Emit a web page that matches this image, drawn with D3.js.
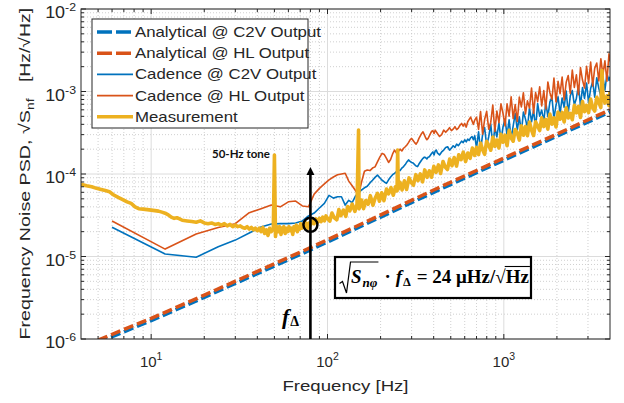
<!DOCTYPE html>
<html>
<head>
<meta charset="utf-8">
<script src="https://cdn.jsdelivr.net/npm/d3@7"></script>
<style>
  html, body { margin: 0; padding: 0; background: #fff; }
  svg { display: block; font-family: "Liberation Sans", Arial, sans-serif; }
  text { white-space: pre; }
</style>
</head>
<body>
<div id="chart"></div>
<script>
/* Frequency noise PSD — analytical vs. Cadence vs. measurement (log-log) */

const X_DOMAIN = [4, 4000];
const Y_DOMAIN = [1e-6, 1e-2];
const X_TICK_EXP = [1, 2, 3];
const Y_TICK_EXP = [-6, -5, -4, -3, -2];

const SERIES_NAMES = [
  'Analytical @ C2V Output',
  'Analytical @ HL Output',
  'Cadence @ C2V Output',
  'Cadence @ HL Output',
  'Measurement'
];

// [frequency Hz, sqrt(S_nf) Hz/sqrt(Hz)]
const analyticalC2V = [
  [5, 0.91e-6], [10, 1.67e-6], [20, 3.2e-6], [40, 6.2e-6], [80, 1.2e-5],
  [160, 2.4e-5], [400, 6.0e-5], [1000, 1.47e-4], [2000, 2.87e-4], [4000, 5.65e-4]
];
const analyticalHL = [
  [5, 0.97e-6], [10, 1.78e-6], [20, 3.4e-6], [40, 6.6e-6], [80, 1.28e-5],
  [160, 2.55e-5], [400, 6.4e-5], [1000, 1.56e-4], [2000, 3.05e-4], [4000, 6.0e-4]
];

const cadenceC2V = [
  [6, 2.26e-5], [12, 1.07e-5], [18, 0.98e-5], [24, 1.31e-5], [30, 1.58e-5], [36, 1.93e-5],
  [42, 2.28e-5], [48, 2.48e-5], [54, 2.5e-5], [60, 2.5e-5], [66, 2.55e-5], [72, 2.7e-5],
  [78, 3.1e-5], [84, 3.36e-5], [90, 3.87e-5], [96, 4.4e-5], [102, 5.5e-5], [108, 5.1e-5],
  [114, 5.3e-5], [120, 5.3e-5], [126, 4.2e-5], [132, 4.8e-5], [138, 4.5e-5], [144, 5.4e-5],
  [150, 5.9e-5], [156, 6.4e-5], [162, 6.8e-5], [168, 7.1e-5], [174, 7.8e-5], [180, 8.4e-5],
  [186, 9.1e-5], [192, 9.7e-5], [198, 9.0e-5], [204, 8.4e-5], [210, 8.0e-5], [216, 7.7e-5],
  [222, 8.5e-5], [228, 9.2e-5], [234, 9.8e-5], [240, 1.02e-4], [246, 1.07e-4], [252, 1.12e-4],
  [258, 1.1e-4], [264, 1.18e-4], [270, 1.23e-4], [276, 1.3e-4], [282, 1.4e-4], [288, 1.48e-4],
  [294, 1.42e-4], [300, 1.38e-4], [306, 1.36e-4], [312, 1.3e-4], [318, 1.25e-4], [324, 1.23e-4],
  [330, 1.32e-4], [336, 1.4e-4], [342, 1.48e-4], [348, 1.55e-4], [354, 1.6e-4], [360, 1.58e-4],
  [366, 1.52e-4], [372, 1.6e-4], [378, 1.62e-4], [384, 1.7e-4], [390, 1.78e-4], [396, 1.85e-4],
  [402, 1.7e-4], [408, 1.9e-4], [414, 1.95e-4], [420, 1.8e-4], [432, 1.7e-4], [444, 1.85e-4],
  [456, 1.95e-4], [468, 2.1e-4], [480, 2.14e-4], [492, 1.95e-4], [504, 2.05e-4], [516, 2.2e-4],
  [528, 2.1e-4], [540, 2.3e-4], [552, 2.2e-4], [564, 2.35e-4], [576, 2.5e-4], [588, 2.4e-4],
  [600, 2.6e-4], [612, 2.45e-4], [624, 2.65e-4], [636, 2.55e-4], [648, 2.75e-4], [660, 2.84e-4],
  [672, 2.6e-4], [684, 2.9e-4],
  [700, 2.07e-4], [719, 3.25e-4], [738, 1.93e-4], [758, 3.02e-4], [778, 3.65e-4], [799, 2.21e-4],
  [821, 2.83e-4], [843, 4.02e-4], [866, 2.15e-4], [889, 3.67e-4], [913, 2.82e-4], [938, 4.17e-4],
  [963, 2.57e-4], [989, 3.71e-4], [1016, 4.67e-4], [1043, 2.91e-4], [1071, 4.54e-4], [1100, 2.69e-4],
  [1130, 3.82e-4], [1160, 5.41e-4], [1192, 3.42e-4], [1224, 4.94e-4], [1257, 3.17e-4], [1291, 5.63e-4],
  [1326, 4.66e-4], [1361, 3.64e-4], [1398, 6.3e-4], [1436, 4.3e-4], [1475, 5.89e-4], [1514, 3.62e-4],
  [1555, 7.12e-4], [1597, 5.03e-4], [1640, 5.96e-4], [1685, 4.34e-4], [1730, 7.41e-4], [1777, 4.96e-4],
  [1825, 7.49e-4], [1874, 8.47e-4], [1924, 4.73e-4], [1976, 6.78e-4], [2030, 8.61e-4], [2084, 5.43e-4],
  [2141, 8.35e-4], [2198, 6.43e-4], [2258, 1.01e-3], [2318, 5.41e-4], [2381, 8.86e-4], [2445, 1.026e-3],
  [2511, 6.88e-4], [2579, 8.29e-4], [2648, 1.174e-3], [2720, 6.8e-4], [2793, 1.118e-3], [2868, 8.25e-4],
  [2946, 1.269e-3], [3025, 7.23e-4], [3107, 1.087e-3], [3190, 1.317e-3], [3277, 8.52e-4], [3365, 1.47e-3],
  [3456, 1.092e-3], [3549, 8.74e-4], [3645, 1.492e-3], [3743, 1.036e-3], [3844, 1.629e-3], [3948, 1.362e-3],
  [4000, 1.506e-3]
];

const cadenceHL = [
  [6, 2.69e-5], [12, 1.23e-5], [18, 1.87e-5], [24, 2.25e-5], [30, 2.5e-5], [36, 3.4e-5],
  [42, 3.8e-5], [48, 4.2e-5], [54, 4.0e-5], [60, 4.6e-5], [66, 4.7e-5], [72, 4.1e-5],
  [78, 4.0e-5], [84, 5.7e-5], [90, 6.7e-5], [96, 7.6e-5], [102, 8.5e-5], [108, 9.2e-5],
  [114, 9.8e-5], [120, 1.0e-4], [126, 1.02e-4], [132, 8.2e-5], [138, 7.2e-5], [144, 6.3e-5],
  [150, 5.5e-5], [156, 8.0e-5], [162, 1.08e-4], [168, 1.12e-4], [174, 1.1e-4], [180, 1.18e-4],
  [186, 1.22e-4], [192, 1.4e-4], [198, 1.6e-4], [204, 1.78e-4], [210, 1.72e-4], [216, 1.55e-4],
  [222, 1.38e-4], [228, 1.5e-4], [234, 1.75e-4], [240, 1.95e-4], [246, 1.8e-4], [252, 1.88e-4],
  [258, 2.0e-4], [264, 1.9e-4], [270, 2.05e-4], [276, 2.14e-4], [282, 2.25e-4], [288, 2.4e-4],
  [294, 2.6e-4], [300, 2.7e-4], [306, 2.55e-4], [312, 2.4e-4], [318, 2.3e-4], [324, 2.45e-4],
  [330, 2.7e-4], [336, 2.9e-4], [342, 3.1e-4], [348, 3.25e-4], [354, 3.0e-4], [360, 2.75e-4],
  [366, 2.6e-4], [372, 2.7e-4], [378, 2.9e-4], [384, 3.1e-4], [390, 3.3e-4], [396, 3.35e-4],
  [402, 3.1e-4], [408, 3.4e-4], [420, 3.1e-4], [432, 2.85e-4], [444, 3.0e-4], [456, 3.4e-4],
  [468, 3.2e-4], [480, 3.4e-4], [492, 3.65e-4], [504, 3.35e-4], [516, 3.5e-4], [528, 3.75e-4],
  [540, 3.45e-4], [552, 3.6e-4], [564, 3.9e-4], [576, 4.1e-4], [588, 3.8e-4], [600, 4.1e-4],
  [612, 3.7e-4], [624, 4.3e-4], [636, 4.6e-4], [648, 4.9e-4], [660, 4.4e-4], [672, 4.0e-4],
  [684, 4.5e-4],
  [700, 4.88e-4], [719, 3.47e-4], [738, 5.73e-4], [758, 3.04e-4], [778, 4.57e-4], [799, 5.74e-4],
  [821, 3.49e-4], [843, 4.25e-4], [866, 6.87e-4], [889, 3.29e-4], [913, 5.78e-4], [938, 4.2e-4],
  [963, 7.08e-4], [989, 5.45e-4], [1016, 3.83e-4], [1043, 7.1e-4], [1071, 5.03e-4], [1100, 8.61e-4],
  [1130, 4.7e-4], [1160, 6.93e-4], [1192, 4.33e-4], [1224, 8.56e-4], [1257, 6.5e-4], [1291, 9.66e-4],
  [1326, 5.33e-4], [1361, 7.7e-4], [1398, 6.32e-4], [1436, 1.104e-3], [1475, 5.44e-4], [1514, 9.68e-4],
  [1555, 7.54e-4], [1597, 1.14e-3], [1640, 6.67e-4], [1685, 1.026e-3], [1730, 6.14e-4], [1777, 1.304e-3],
  [1825, 9.68e-4], [1874, 8.03e-4], [1924, 1.454e-3], [1976, 7.46e-4], [2030, 1.325e-3], [2084, 9.41e-4],
  [2141, 1.499e-3], [2198, 7.91e-4], [2258, 1.295e-3], [2318, 1.559e-3], [2381, 9.47e-4], [2445, 1.821e-3],
  [2511, 1.121e-3], [2579, 1.595e-3], [2648, 9.16e-4], [2720, 1.946e-3], [2793, 1.376e-3], [2868, 1.101e-3],
  [2946, 2.024e-3], [3025, 1.261e-3], [3107, 2.28e-3], [3190, 1.169e-3], [3277, 1.918e-3], [3365, 2.213e-3],
  [3456, 1.344e-3], [3549, 2.498e-3], [3645, 1.589e-3], [3743, 2.354e-3], [3844, 1.337e-3], [3948, 2.856e-3],
  [4000, 2.316e-3]
];

const measurement = [
  [4.0, 7.5e-5], [4.3, 7.2e-5], [4.6, 7.0e-5], [4.9, 6.7e-5], [5.2, 6.5e-5], [5.5, 6.3e-5],
  [5.8, 6.1e-5], [6.1, 5.6e-5], [6.5, 5.2e-5], [6.9, 4.9e-5], [7.3, 4.6e-5], [7.7, 4.4e-5],
  [8.1, 4.0e-5], [8.5, 3.8e-5], [9.0, 3.75e-5], [9.5, 3.7e-5], [10, 3.65e-5], [10.5, 3.6e-5],
  [11, 3.55e-5], [11.5, 3.45e-5], [12, 3.35e-5], [12.5, 3.2e-5], [13, 3.0e-5], [13.5, 2.9e-5],
  [14, 2.95e-5], [14.5, 2.85e-5], [15, 2.75e-5], [16, 2.7e-5], [17, 2.65e-5], [18, 2.6e-5],
  [19, 2.7e-5], [20, 2.55e-5], [21, 2.5e-5], [22, 2.55e-5], [23, 2.45e-5], [24, 2.5e-5],
  [25, 2.4e-5], [26, 2.5e-5], [27, 2.35e-5], [28, 2.45e-5], [29, 2.3e-5], [30, 2.4e-5],
  [31, 2.3e-5], [32, 2.35e-5], [33, 2.25e-5], [34, 2.2e-5], [35, 2.3e-5], [36, 2.15e-5],
  [37, 2.25e-5], [38, 2.1e-5], [39, 2.2e-5], [40, 2.05e-5], [41, 2.2e-5], [42, 2.0e-5],
  [43, 2.25e-5], [44, 1.9e-5], [45, 2.1e-5], [46, 1.8e-5], [47, 2.2e-5], [48, 2.0e-5],
  [49.3, 2.2e-5], [50, 1.7e-4], [50.7, 1.75e-5], [51.5, 2.3e-5], [52.5, 2.0e-5], [53.5, 2.3e-5],
  [54.5, 1.85e-5], [55.5, 2.2e-5], [56.5, 2.3e-5], [57.5, 1.9e-5], [58.5, 2.2e-5], [59.5, 2.0e-5],
  [60.5, 2.3e-5], [61.5, 2.05e-5], [62.5, 2.2e-5], [63.5, 1.85e-5], [64.5, 2.3e-5], [65.5, 2.1e-5],
  [66.5, 2.4e-5], [67.5, 2.0e-5], [68.5, 2.3e-5], [69.5, 2.15e-5], [70.5, 2.5e-5], [71.5, 2.2e-5],
  [72.5, 2.4e-5], [73.5, 2.3e-5], [74.5, 2.6e-5], [75.5, 2.3e-5], [76.5, 2.5e-5], [77.5, 2.2e-5],
  [78.5, 2.55e-5], [80, 2.4e-5], [82, 2.7e-5], [84, 2.5e-5], [86, 2.85e-5], [88, 2.6e-5],
  [90, 2.9e-5], [92, 2.65e-5], [94, 3.0e-5], [96, 2.7e-5], [98, 3.1e-5],
  [100, 2.9e-5], [103, 2.68e-5], [106, 3.37e-5], [109, 2.97e-5], [113, 2.79e-5], [116, 3.71e-5],
  [119, 3.12e-5], [123, 3.66e-5], [127, 3.06e-5], [130, 4.04e-5], [134, 3.58e-5], [138, 4.33e-5],
  [143, 3.52e-5], [147, 4.31e-5], [150, 3.4e-4], [151, 3.78e-5], [156, 4.84e-5], [160, 3.8e-5],
  [165, 4.77e-5], [170, 4.3e-5], [175, 5.46e-5], [181, 4.19e-5], [186, 5.05e-5], [192, 5.82e-5],
  [197, 4.68e-5], [203, 5.93e-5], [209, 4.75e-5], [216, 6.56e-5], [222, 5.73e-5], [229, 6.85e-5],
  [236, 5.54e-5], [243, 6.97e-5], [248, 6.24e-5], [250, 1.95e-4], [252, 6.56e-5], [258, 7.92e-5],
  [265, 6.41e-5], [273, 8.26e-5], [281, 6.5e-5], [290, 8.96e-5], [299, 7.86e-5], [307, 7.3e-5],
  [317, 9.82e-5], [326, 8.29e-5], [336, 1.003e-4], [346, 8.03e-5], [356, 1.121e-4], [367, 9.12e-5],
  [378, 1.095e-4], [389, 9.13e-5], [401, 1.239e-4], [413, 1.048e-4], [426, 1.291e-4], [438, 1.014e-4],
  [452, 1.419e-4], [465, 1.217e-4], [479, 1.134e-4], [493, 1.52e-4], [508, 1.261e-4], [523, 1.585e-4],
  [539, 1.246e-4], [555, 1.708e-4], [572, 1.492e-4], [589, 1.841e-4], [607, 1.414e-4], [625, 1.796e-4],
  [644, 1.549e-4], [663, 2.063e-4], [683, 1.676e-4],
  [700, 2.1e-4], [719, 1.72e-4], [738, 2.37e-4], [758, 1.96e-4], [778, 1.73e-4], [799, 2.49e-4],
  [821, 2.22e-4], [843, 1.94e-4], [866, 2.81e-4], [889, 2.16e-4], [913, 2.58e-4], [938, 2.07e-4],
  [963, 3.04e-4], [989, 2.43e-4], [1016, 2.96e-4], [1043, 2.2e-4], [1071, 3.38e-4], [1100, 2.73e-4],
  [1130, 2.5e-4], [1160, 3.46e-4], [1192, 3.13e-4], [1224, 2.58e-4], [1257, 3.85e-4], [1291, 2.95e-4],
  [1326, 3.76e-4], [1361, 2.91e-4], [1398, 4.27e-4], [1436, 3.4e-4], [1475, 2.93e-4], [1514, 4.3e-4],
  [1555, 3.82e-4], [1597, 3.36e-4], [1640, 4.79e-4], [1685, 3.76e-4], [1730, 4.59e-4], [1777, 3.5e-4],
  [1825, 5.32e-4], [1874, 4.01e-4], [1924, 4.78e-4], [1976, 3.72e-4], [2030, 5.62e-4], [2084, 4.62e-4],
  [2141, 5.57e-4], [2198, 4.27e-4], [2258, 6.34e-4], [2318, 4.78e-4], [2381, 5.43e-4], [2445, 4.55e-4],
  [2511, 6.8e-4], [2579, 5.51e-4], [2648, 6.63e-4], [2720, 4.84e-4], [2793, 7.55e-4], [2868, 5.69e-4],
  [2946, 6.79e-4], [3025, 5.55e-4], [3107, 8.1e-4], [3190, 6.35e-4], [3277, 5.79e-4], [3365, 8.51e-4],
  [3456, 7.37e-4], [3549, 6.4e-4], [3600, 1.8e-3], [3645, 9.39e-4], [3743, 7.24e-4], [3844, 8.85e-4],
  [3948, 6.74e-4], [4000, 9.96e-4]
];

// annotation values
const F_DELTA = 80;
const ARROW_TOP = 1.22e-4;
const OPERATING_POINT = [80, 2.42e-5];
const TONE_LABEL = '50-Hz tone';

(function () {
  const W = 624, H = 403;
  const plot = { left: 81, right: 610, top: 9, bottom: 339 };
  const AXIS_COLOR = '#262626';
  const BLUE = '#0072BD', ORANGE = '#D95319', YELLOW = '#EDB120';

  const x = d3.scaleLog().domain(X_DOMAIN).range([plot.left, plot.right]);
  const y = d3.scaleLog().domain(Y_DOMAIN).range([plot.bottom, plot.top]);

  const svg = d3.select('#chart').append('svg')
    .attr('width', W).attr('height', H)
    .attr('viewBox', `0 0 ${W} ${H}`);

  svg.append('defs').append('clipPath').attr('id', 'plot-clip')
    .append('rect')
    .attr('x', plot.left).attr('y', plot.top)
    .attr('width', plot.right - plot.left).attr('height', plot.bottom - plot.top);

  // tick values
  const xMajor = X_TICK_EXP.map(e => Math.pow(10, e));
  const yMajor = Y_TICK_EXP.map(e => Math.pow(10, e));
  const xMinor = [];
  [1, 10, 100, 1000].forEach(d => {
    for (let m = 2; m <= 9; m++) {
      const v = d * m;
      if (v > X_DOMAIN[0] && v < X_DOMAIN[1]) xMinor.push(v);
    }
  });
  const yMinor = [];
  [1e-6, 1e-5, 1e-4, 1e-3].forEach(d => {
    for (let m = 2; m <= 9; m++) yMinor.push(d * m);
  });

  // grid
  const grid = svg.append('g').attr('class', 'grid');
  grid.selectAll('.gx-minor').data(xMinor).enter().append('line')
    .attr('x1', d => x(d)).attr('x2', d => x(d))
    .attr('y1', plot.top).attr('y2', plot.bottom)
    .attr('stroke', '#c4c4c4').attr('stroke-width', 0.8).attr('stroke-dasharray', '1,2');
  grid.selectAll('.gy-minor').data(yMinor).enter().append('line')
    .attr('y1', d => y(d)).attr('y2', d => y(d))
    .attr('x1', plot.left).attr('x2', plot.right)
    .attr('stroke', '#c4c4c4').attr('stroke-width', 0.8).attr('stroke-dasharray', '1,2');
  grid.selectAll('.gx-major').data(xMajor).enter().append('line')
    .attr('x1', d => x(d)).attr('x2', d => x(d))
    .attr('y1', plot.top).attr('y2', plot.bottom)
    .attr('stroke', '#dcdcdc').attr('stroke-width', 1);
  grid.selectAll('.gy-major').data(yMajor).enter().append('line')
    .attr('y1', d => y(d)).attr('y2', d => y(d))
    .attr('x1', plot.left).attr('x2', plot.right)
    .attr('stroke', '#dcdcdc').attr('stroke-width', 1);

  // series
  const line = d3.line().x(d => x(d[0])).y(d => y(d[1]));
  const STYLES = {
    'Analytical @ C2V Output': { data: analyticalC2V, color: BLUE, width: 3.5, dash: '10,4' },
    'Analytical @ HL Output': { data: analyticalHL, color: ORANGE, width: 3.5, dash: '10,4' },
    'Cadence @ C2V Output': { data: cadenceC2V, color: BLUE, width: 1.6, dash: null },
    'Cadence @ HL Output': { data: cadenceHL, color: ORANGE, width: 1.6, dash: null },
    'Measurement': { data: measurement, color: YELLOW, width: 3.6, dash: null }
  };

  const lines = svg.append('g').attr('clip-path', 'url(#plot-clip)');
  SERIES_NAMES.forEach(name => {
    const s = STYLES[name];
    lines.append('path')
      .datum(s.data)
      .attr('fill', 'none')
      .attr('stroke', s.color)
      .attr('stroke-width', s.width)
      .attr('stroke-linejoin', 'round')
      .attr('stroke-dasharray', s.dash)
      .attr('d', line);
  });

  // axes box + inward ticks on all sides
  const axes = svg.append('g').attr('class', 'axes');
  axes.append('rect')
    .attr('x', plot.left).attr('y', plot.top)
    .attr('width', plot.right - plot.left).attr('height', plot.bottom - plot.top)
    .attr('fill', 'none').attr('stroke', AXIS_COLOR).attr('stroke-width', 1);

  function xTicks(vals, len) {
    axes.selectAll(null).data(vals).enter().append('line')
      .attr('x1', d => x(d)).attr('x2', d => x(d))
      .attr('y1', plot.bottom).attr('y2', plot.bottom - len)
      .attr('stroke', AXIS_COLOR).attr('stroke-width', 1);
    axes.selectAll(null).data(vals).enter().append('line')
      .attr('x1', d => x(d)).attr('x2', d => x(d))
      .attr('y1', plot.top).attr('y2', plot.top + len)
      .attr('stroke', AXIS_COLOR).attr('stroke-width', 1);
  }
  function yTicks(vals, len) {
    axes.selectAll(null).data(vals).enter().append('line')
      .attr('y1', d => y(d)).attr('y2', d => y(d))
      .attr('x1', plot.left).attr('x2', plot.left + len)
      .attr('stroke', AXIS_COLOR).attr('stroke-width', 1);
    axes.selectAll(null).data(vals).enter().append('line')
      .attr('y1', d => y(d)).attr('y2', d => y(d))
      .attr('x1', plot.right).attr('x2', plot.right - len)
      .attr('stroke', AXIS_COLOR).attr('stroke-width', 1);
  }
  xTicks(xMajor, 5); xTicks(xMinor, 3);
  yTicks(yMajor, 5); yTicks(yMinor, 3);

  // tick labels
  X_TICK_EXP.forEach(e => {
    const t = axes.append('text')
      .attr('transform', `translate(${x(Math.pow(10, e))},367)`)
      .attr('text-anchor', 'middle')
      .style('font-size', '15px').style('fill', AXIS_COLOR);
    t.append('tspan').text('10');
    t.append('tspan').attr('dy', -7).style('font-size', '10.5px').text(e);
  });
  Y_TICK_EXP.forEach(e => {
    const t = axes.append('text')
      .attr('transform', `translate(76,${y(Math.pow(10, e)) + 9}) scale(1.12,1)`)
      .attr('text-anchor', 'end')
      .style('font-size', '16px').style('fill', AXIS_COLOR);
    t.append('tspan').text('10');
    t.append('tspan').attr('dy', -7).style('font-size', '11px').text('-' + Math.abs(e));
  });

  // axis labels
  axes.append('text')
    .attr('transform', `translate(${(plot.left + plot.right) / 2},391) scale(1.2,1)`)
    .attr('text-anchor', 'middle')
    .style('font-size', '15.5px').style('fill', AXIS_COLOR)
    .text('Frequency [Hz]');

  const yl = axes.append('text')
    .attr('transform', 'translate(30,219) rotate(-90) scale(1.27,1)')
    .attr('text-anchor', 'middle')
    .style('font-size', '15.5px').style('fill', AXIS_COLOR);
  yl.append('tspan').text('Frequency Noise PSD, \u221AS');
  yl.append('tspan').attr('dy', 4).style('font-size', '11px').text('nf');
  axes.append('text')
    .attr('transform', 'translate(30,45) rotate(-90) scale(1.25,1)')
    .attr('text-anchor', 'middle')
    .style('font-size', '15.5px').style('fill', AXIS_COLOR)
    .text('[Hz/\u221AHz]');

  // legend
  const legend = svg.append('g').attr('class', 'legend');
  legend.append('rect')
    .attr('x', 92).attr('y', 19).attr('width', 216).attr('height', 109)
    .attr('fill', '#fff').attr('stroke', AXIS_COLOR).attr('stroke-width', 1);
  SERIES_NAMES.forEach((name, i) => {
    const s = STYLES[name];
    const cy = 32 + i * 21.2;
    legend.append('line')
      .attr('x1', 97).attr('x2', 133).attr('y1', cy).attr('y2', cy)
      .attr('stroke', s.color).attr('stroke-width', s.width)
      .attr('stroke-dasharray', s.dash ? '15,4' : null);
    legend.append('text')
      .attr('transform', `translate(135,${cy + 5}) scale(1.2,1)`)
      .style('font-size', '14px').style('fill', AXIS_COLOR)
      .text(name);
  });

  // annotations
  const ann = svg.append('g').attr('class', 'annotations');
  const fx = x(F_DELTA);
  const tipY = y(ARROW_TOP);
  ann.append('line')
    .attr('x1', fx).attr('x2', fx).attr('y1', plot.bottom).attr('y2', tipY + 5)
    .attr('stroke', '#000').attr('stroke-width', 2.6);
  ann.append('path')
    .attr('d', `M${fx},${tipY} L${fx - 4},${tipY + 8} L${fx + 4},${tipY + 8} Z`)
    .attr('fill', '#000');
  ann.append('circle')
    .attr('cx', x(OPERATING_POINT[0])).attr('cy', y(OPERATING_POINT[1]))
    .attr('r', 7).attr('fill', 'none').attr('stroke', '#000').attr('stroke-width', 2.5);

  ann.append('text')
    .attr('x', 212).attr('y', 158)
    .style('font-family', 'Lato, "Open Sans", sans-serif')
    .style('font-weight', 'bold').style('font-size', '11.5px').style('fill', '#111')
    .text(TONE_LABEL);

  const fl = ann.append('text')
    .attr('x', 282).attr('y', 324)
    .style('font-family', '"Liberation Serif", serif').style('font-weight', 'bold')
    .style('fill', '#000');
  fl.append('tspan').style('font-style', 'italic').style('font-size', '22px').text('f');
  fl.append('tspan').attr('dy', 2).attr('dx', 1).style('font-size', '14px').text('\u0394');

  // equation box
  const eq = ann.append('g');
  eq.append('rect')
    .attr('x', 335).attr('y', 257).attr('width', 196).attr('height', 41)
    .attr('fill', '#fff').attr('stroke', '#000').attr('stroke-width', 2.2);
  const serif = '"Liberation Serif", serif';
  const base = 283;
  function piece(str, px, py, size, italic) {
    const t = eq.append('text')
      .attr('x', px).attr('y', py)
      .style('font-family', serif).style('font-weight', 'bold')
      .style('font-style', italic ? 'italic' : 'normal')
      .style('font-size', size + 'px').style('fill', '#000')
      .text(str);
    return px + t.node().getComputedTextLength();
  }
  let cx = piece('S', 351, base, 19, true);
  cx = piece('n\u03C6', cx + 1, base + 4, 13, true);
  eq.append('path')
    .attr('d', `M339.5,283.5 L342.5,281.5 L346.5,293 L350.5,262 L${cx + 1},262`)
    .attr('fill', 'none').attr('stroke', '#000').attr('stroke-width', 1.2);
  cx = piece('\u00B7', cx + 7, base, 19, false);
  cx = piece('f', cx + 5, base, 19, true);
  cx = piece('\u0394', cx + 1, base + 3, 12.5, false);
  cx = piece('\u00A0=\u00A024\u00A0\u03BCHz/\u221A', cx + 1, base, 19, false);
  const hz0 = cx;
  cx = piece('Hz', cx, base, 19, false);
  eq.append('line')
    .attr('x1', hz0 - 1).attr('x2', cx + 1).attr('y1', 266.5).attr('y2', 266.5)
    .attr('stroke', '#000').attr('stroke-width', 1.1);
})();
</script>
</body>
</html>
